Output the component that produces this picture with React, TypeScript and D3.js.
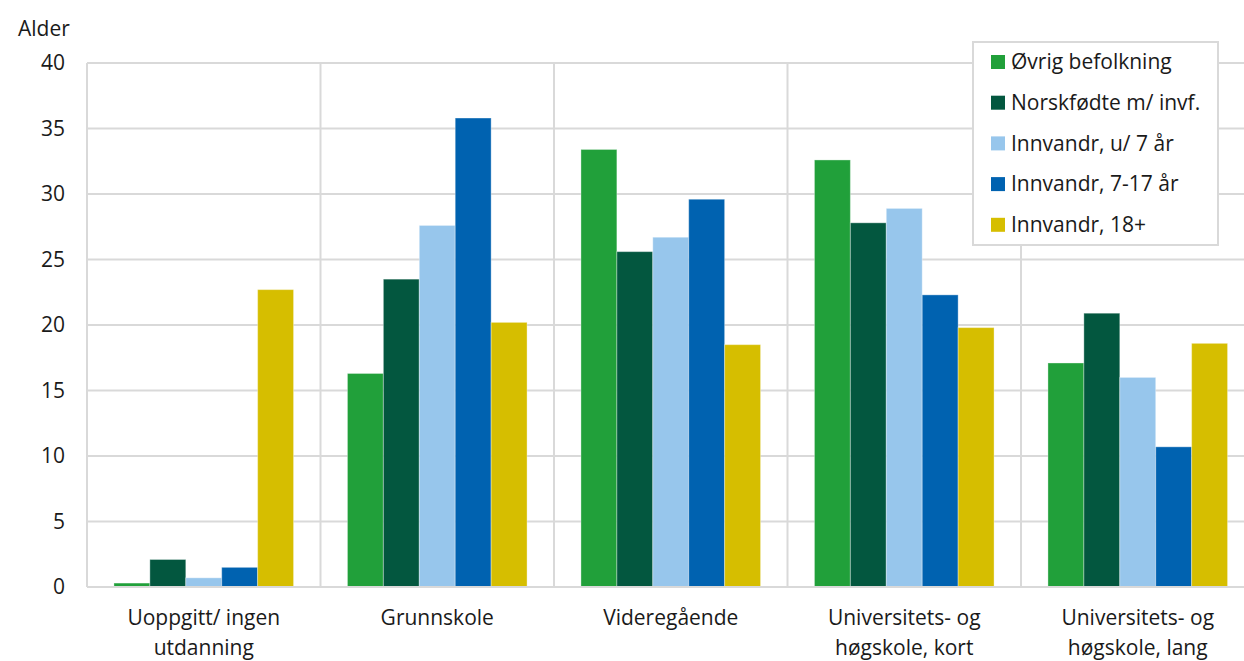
import React from 'react';
import * as d3 from 'd3';

const categories = [
  ['Uoppgitt/ ingen', 'utdanning'],
  ['Grunnskole'],
  ['Videregående'],
  ['Universitets- og', 'høgskole, kort'],
  ['Universitets- og', 'høgskole, lang']
];

const seriesNames = [
  'Øvrig befolkning',
  'Norskfødte m/ invf.',
  'Innvandr, u/ 7 år',
  'Innvandr, 7-17 år',
  'Innvandr, 18+'
];

const seriesColors = ['#21a03a', '#03573f', '#97c6ec', '#0062b0', '#d6be00'];

// one row per series, one value per category
const values = [
  [0.3, 16.3, 33.4, 32.6, 17.1],
  [2.1, 23.5, 25.6, 27.8, 20.9],
  [0.7, 27.6, 26.7, 28.9, 16.0],
  [1.5, 35.8, 29.6, 22.3, 10.7],
  [22.7, 20.2, 18.5, 19.8, 18.6]
];

const yTicks = [0, 5, 10, 15, 20, 25, 30, 35, 40];

const font = '"Open Sans", "Noto Sans", sans-serif';
const grid = '#d9d9d9';
const fs = 21;

export default function App() {
  const width = 1244;
  const height = 661;
  const left = 87;
  const top = 63;
  const bottom = 587;
  const groupWidth = 233.5;

  const x0 = d3
    .scaleBand<number>()
    .domain(categories.map((c, i) => i))
    .range([left, left + groupWidth * categories.length])
    .padding(0);

  const x1 = d3
    .scaleBand<number>()
    .domain(seriesNames.map((s, i) => i))
    .range([0, x0.bandwidth()])
    .paddingOuter(0.75)
    .paddingInner(0);

  const y = d3.scaleLinear().domain([0, 40]).range([bottom, top]);

  return (
    <svg
      width={width}
      height={height}
      style={{ position: 'absolute', left: 0, top: 0, background: '#fff' }}
      fontFamily={font}
    >
      <text x={18} y={36} fontSize={fs} fill="#1a1a1a">
        Alder
      </text>

      {yTicks.map(t => (
        <g key={t}>
          <line
            x1={left}
            x2={width}
            y1={y(t)}
            y2={y(t)}
            stroke={grid}
            strokeWidth={2}
          />
          <text
            x={65}
            y={y(t)}
            dy="0.35em"
            textAnchor="end"
            fontSize={fs}
            fill="#1a1a1a"
          >
            {t}
          </text>
        </g>
      ))}

      {categories.map((c, i) => (
        <line
          key={i}
          x1={x0(i)!}
          x2={x0(i)!}
          y1={top}
          y2={bottom}
          stroke={grid}
          strokeWidth={2}
        />
      ))}

      {values.map((row, s) =>
        row.map((v, i) => (
          <rect
            key={`${s}-${i}`}
            x={x0(i)! + x1(s)!}
            y={y(v)}
            width={x1.bandwidth()}
            height={bottom - y(v)}
            fill={seriesColors[s]}
            stroke="#ffffff"
            strokeOpacity={0.35}
            strokeWidth={1}
          />
        ))
      )}

      <line x1={left} x2={width} y1={bottom} y2={bottom} stroke={grid} strokeWidth={2} />

      {categories.map((c, i) =>
        c.map((line, j) => (
          <text
            key={`${i}-${j}`}
            x={x0(i)! + x0.bandwidth() / 2}
            y={625 + j * 30}
            textAnchor="middle"
            fontSize={fs}
            fill="#1a1a1a"
          >
            {line}
          </text>
        ))
      )}

      <g transform="translate(973, 42)">
        <rect width={245} height={203} fill="#fff" stroke={grid} strokeWidth={2} />
        {seriesNames.map((name, s) => (
          <g key={name} transform={`translate(18, ${20 + s * 40.7})`}>
            <rect x={0} y={-7} width={14} height={14} fill={seriesColors[s]} />
            <text x={20} y={0} dy="0.35em" fontSize={fs} fill="#1a1a1a">
              {name}
            </text>
          </g>
        ))}
      </g>
    </svg>
  );
}
